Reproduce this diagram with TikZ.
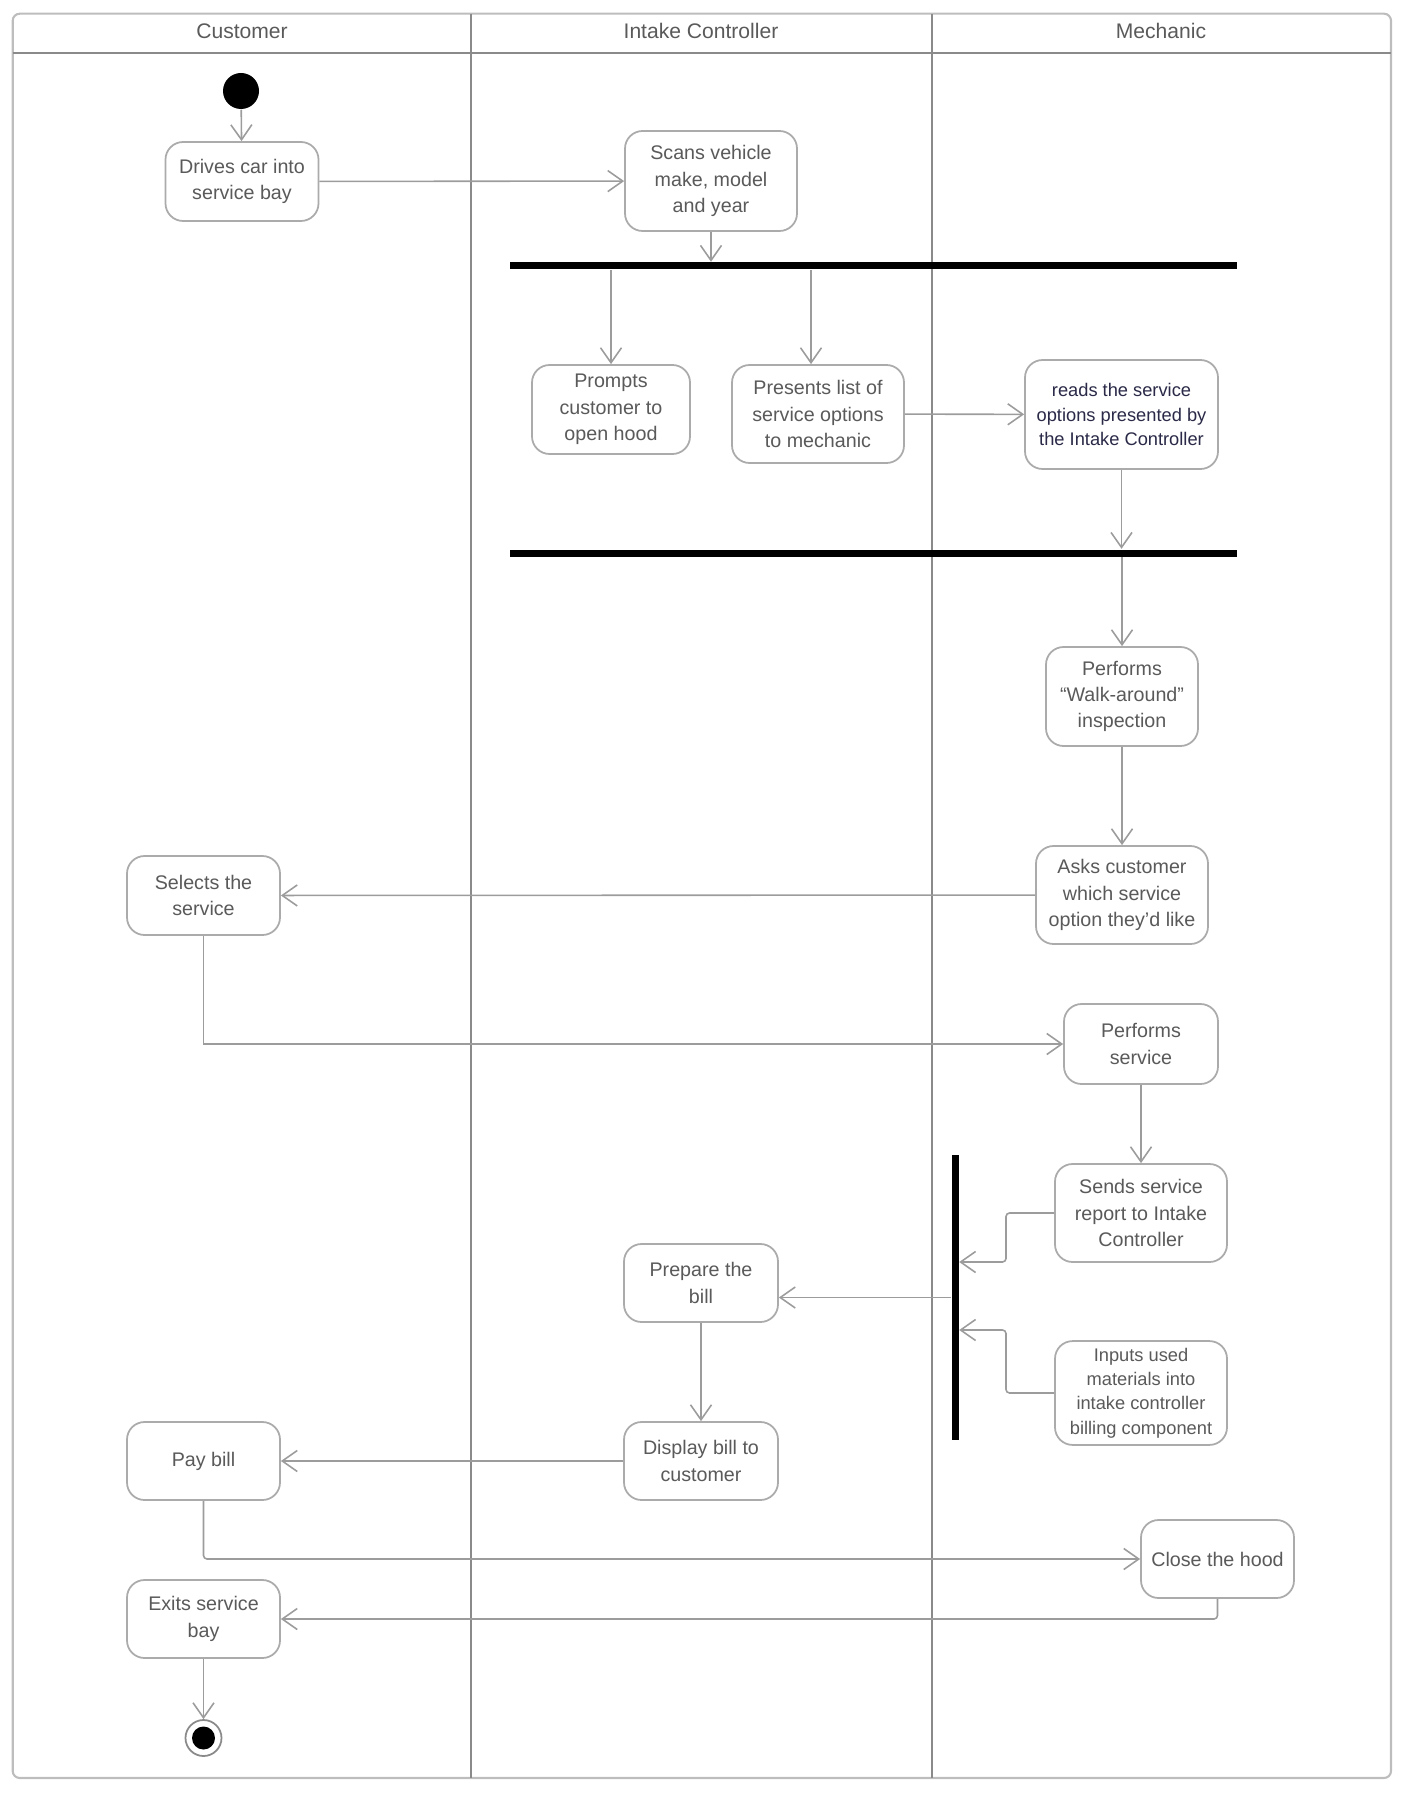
\documentclass[tikz,border=0pt]{standalone}
\usepackage{fontspec}
\setmainfont{Liberation Sans}
\usepackage{tikz}
\usetikzlibrary{positioning,arrows.meta,calc}
\definecolor{lanegray}{HTML}{8A8A8A}
\definecolor{framegray}{HTML}{BDBDBD}
\definecolor{boxgray}{HTML}{ABABAB}
\definecolor{linkgray}{HTML}{9C9C9C}
\definecolor{txtgray}{HTML}{5A5A5A}
\definecolor{navytxt}{HTML}{2A2A48}
\newcommand{\actfont}{\fontsize{5.6}{7.5}\selectfont}
\newcommand{\smallactfont}{\fontsize{5.2}{6.9}\selectfont}
\tikzset{
  act/.style={draw=boxgray,rounded corners=5pt,fill=white,align=center,text=txtgray,
              font=\actfont,inner sep=2pt,line width=0.5pt},
  bar/.style={fill=black,draw=none,inner sep=0pt},
  lnk/.style={-{Straight Barb[length=1.5mm,width=2.1mm]},line width=0.45pt,draw=linkgray},
  lane/.style={draw=lanegray,line width=0.6pt},
  hdr/.style={font=\fontsize{6}{7.5}\selectfont,text=txtgray},
}

\begin{document}
\begin{tikzpicture}
\useasboundingbox (0,0) rectangle (14.13,-17.93);

% ---- swimlanes
\draw[framegray,line width=0.6pt,rounded corners=2pt] (0.127,-0.137) rectangle (13.91,-17.78);
\draw[lane] (0.127,-0.527) -- (13.91,-0.527);
\draw[lane] (4.71,-0.137) -- (4.71,-17.78);
\draw[lane] (9.32,-0.137) -- (9.32,-17.78);
\node[hdr] (hcust) at (2.42,-0.31) {Customer};
\node[hdr] (hintake) at (7.01,-0.31) {Intake Controller};
\node[hdr] (hmech) at (11.61,-0.31) {Mechanic};

% ---- start, first actions
\node[circle,fill=black,minimum size=0.36cm,inner sep=0pt] (start) at (2.41,-0.91) {};
\node[act,minimum width=1.53cm,minimum height=0.79cm] (drive) at (2.42,-1.815) {Drives car into\\service bay};
\node[act,minimum width=1.72cm,minimum height=1.0cm] (scan) at (7.11,-1.81) {Scans vehicle\\make, model\\and year};
\draw[lnk] (start) -- (drive);
\draw[lnk] (drive) -- (scan);

% ---- fork / join
\node[bar,minimum width=7.27cm,minimum height=0.07cm] (fork) at (8.735,-2.66) {};
\node[bar,minimum width=7.27cm,minimum height=0.07cm] (join) at (8.735,-5.53) {};
\draw[lnk] (scan.south) -- (scan |- fork.north);

\node[act,minimum width=1.58cm,minimum height=0.89cm] (prompt) at (6.11,-4.095) {Prompts\\customer to\\open hood};
\node[act,minimum width=1.72cm,minimum height=0.98cm] (present) at (8.18,-4.14) {Presents list of\\service options\\to mechanic};
\node[act,minimum width=1.93cm,minimum height=1.09cm,text=navytxt,font=\smallactfont] (read) at (11.215,-4.145) {reads the service\\options presented by\\the Intake Controller};
\draw[lnk] (prompt |- fork.south) -- (prompt.north);
\draw[lnk] ($(present.north |- fork.south)+(-0.07,0)$) -- ($(present.north)+(-0.07,0)$);
\draw[lnk] (present) -- (read);
\draw[lnk] (read.south) -- (read |- join.north);

% ---- mechanic inspection
\node[act,minimum width=1.52cm,minimum height=0.99cm] (walk) at (11.22,-6.965) {Performs\\``Walk-around''\\inspection};
\node[act,minimum width=1.72cm,minimum height=0.98cm] (ask) at (11.22,-8.95) {Asks customer\\which service\\option they'd like};
\node[act,minimum width=1.53cm,minimum height=0.79cm] (select) at (2.035,-8.955) {Selects the\\service};
\draw[lnk] (walk |- join.south) -- (walk.north);
\draw[lnk] (walk) -- (ask);
\draw[lnk] (ask) -- (select);

% ---- service and billing
\node[act,minimum width=1.54cm,minimum height=0.8cm] (perform) at (11.41,-10.44) {Performs\\service};
\node[act,minimum width=1.72cm,minimum height=0.98cm] (report) at (11.41,-12.13) {Sends service\\report to Intake\\Controller};
\node[act,minimum width=1.72cm,minimum height=0.98cm,font=\smallactfont] (inputs) at (11.41,-13.93) {Inputs used\\materials into\\intake controller\\billing component};
\node[bar,minimum width=0.07cm,minimum height=2.85cm] (merge) at (9.55,-12.975) {};
\node[act,minimum width=1.54cm,minimum height=0.78cm] (prep) at (7.01,-12.83) {Prepare the\\bill};
\node[act,minimum width=1.54cm,minimum height=0.78cm] (show) at (7.01,-14.61) {Display bill to\\customer};
\node[act,minimum width=1.53cm,minimum height=0.78cm] (pay) at (2.035,-14.61) {Pay bill};
\draw[lnk] (select.south) |- (perform.west);
\draw[lnk] (perform) -- (report);
\draw[lnk,rounded corners=1pt] (report.west) -- (10.06,-12.13) -- (10.06,-12.62) -- (merge.east |- 0,-12.62);
\draw[lnk,rounded corners=1pt] (inputs.west) -- (10.06,-13.93) -- (10.06,-13.30) -- (merge.east |- 0,-13.30);
\draw[lnk] (merge.west) -- (merge.west -| prep.east);
\draw[lnk] (prep) -- (show);
\draw[lnk] (show) -- (pay);

% ---- leaving
\node[act,minimum width=1.53cm,minimum height=0.78cm] (hood) at (12.175,-15.59) {Close the hood};
\node[act,minimum width=1.53cm,minimum height=0.78cm] (exit) at (2.035,-16.19) {Exits service\\bay};
\node[circle,draw=lanegray,line width=0.5pt,minimum size=0.36cm,inner sep=0pt] (stop) at (2.035,-17.38) {};
\fill (stop.center) circle (0.115);
\draw[lnk,rounded corners=1pt] (pay.south) |- (hood.west);
\draw[lnk,rounded corners=1pt] (hood.south) |- (exit.east);
\draw[lnk] (exit) -- (stop);

\end{tikzpicture}
\end{document}
